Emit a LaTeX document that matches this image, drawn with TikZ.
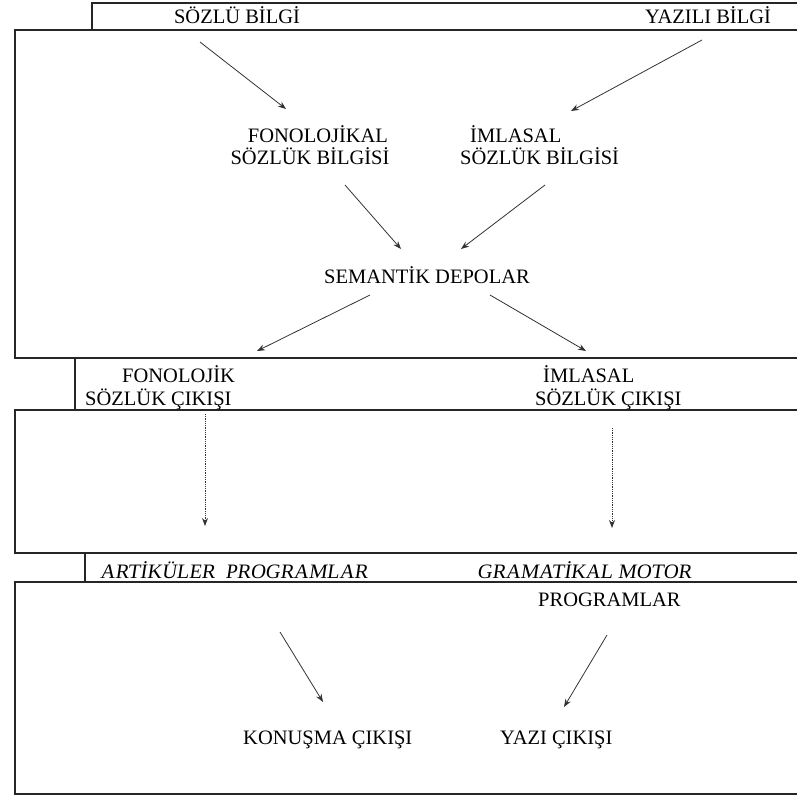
\documentclass[tikz,border=0pt]{standalone}
\usepackage{fontspec}
\setmainfont{Liberation Serif}
\newfontfamily\slantedfont[FakeSlant=0.15]{Liberation Serif}
\usetikzlibrary{arrows.meta}
\begin{document}
\begin{tikzpicture}[x=1pt,y=-1pt,
  frame/.style={draw=black!85,line width=1.3pt},
  lbl/.style={inner sep=0pt,font=\fontsize{20.5}{24}\selectfont},
  slbl/.style={lbl,font=\fontsize{20.5}{24}\selectfont\slantedfont},
  conn/.style={draw=black!80,line width=0.8pt,-{Stealth[length=8pt,width=6pt]}},
  dconn/.style={conn,densely dotted}]
\useasboundingbox (0,0) rectangle (797,796);
% frames
\draw[frame] (797,3) -- (92,3) -- (92,30);
\draw[frame] (797,30) -- (15,30) -- (15,358) -- (797,358);
\draw[frame] (75,358) -- (75,410);
\draw[frame] (797,410) -- (15,410) -- (15,553) -- (797,553);
\draw[frame] (85,553) -- (85,582);
\draw[frame] (797,582) -- (15,582) -- (15,794) -- (797,794);
% texts
\node[lbl,anchor=base] (sozlu) at (237,23) {SÖZLÜ BİLGİ};
\node[lbl,anchor=base] (yazili) at (708,23) {YAZILI BİLGİ};
\node[lbl,anchor=base] (fon1) at (318,142) {FONOLOJİKAL};
\node[lbl,anchor=base] (fon2) at (310,164) {SÖZLÜK BİLGİSİ};
\node[lbl,anchor=base west] (iml1) at (470,142) {İMLASAL};
\node[lbl,anchor=base west] (iml2) at (460,164) {SÖZLÜK BİLGİSİ};
\node[lbl,anchor=base] (sem) at (427,283) {SEMANTİK DEPOLAR};
\node[lbl,anchor=base west] (fo1) at (122,382) {FONOLOJİK};
\node[lbl,anchor=base west] (fo2) at (85,405) {SÖZLÜK ÇIKIŞI};
\node[lbl,anchor=base west] (im1) at (543,382) {İMLASAL};
\node[lbl,anchor=base west] (im2) at (535,405) {SÖZLÜK ÇIKIŞI};
\node[slbl,anchor=base west] (art) at (100,578) {ARTİKÜLER\ \ PROGRAMLAR};
\node[slbl,anchor=base west] (gram) at (477,578) {GRAMATİKAL MOTOR};
\node[lbl,anchor=base west] (prog) at (538,606) {PROGRAMLAR};
\node[lbl,anchor=base west] (kon) at (243,744) {KONUŞMA ÇIKIŞI};
\node[lbl,anchor=base west] (yazi) at (500,744) {YAZI ÇIKIŞI};
% arrow end points
\coordinate (a1s) at (200,42);  \coordinate (a1e) at (286,109);
\coordinate (a2s) at (702,40);  \coordinate (a2e) at (571,111);
\coordinate (a3s) at (345,185); \coordinate (a3e) at (401,249);
\coordinate (a4s) at (545,185); \coordinate (a4e) at (461,249);
\coordinate (a5s) at (370,295); \coordinate (a5e) at (257,351);
\coordinate (a6s) at (490,295); \coordinate (a6e) at (586,351);
\coordinate (a7s) at (205,414); \coordinate (a7e) at (205,526);
\coordinate (a8s) at (612,428); \coordinate (a8e) at (612,528);
\coordinate (a9s) at (280,632); \coordinate (a9e) at (323,702);
\coordinate (a10s) at (607,635); \coordinate (a10e) at (564,707);
\draw[conn] (a1s) -- (a1e);
\draw[conn] (a2s) -- (a2e);
\draw[conn] (a3s) -- (a3e);
\draw[conn] (a4s) -- (a4e);
\draw[conn] (a5s) -- (a5e);
\draw[conn] (a6s) -- (a6e);
\draw[dconn] (a7s) -- (a7e);
\draw[dconn] (a8s) -- (a8e);
\draw[conn] (a9s) -- (a9e);
\draw[conn] (a10s) -- (a10e);
\end{tikzpicture}
\end{document}
